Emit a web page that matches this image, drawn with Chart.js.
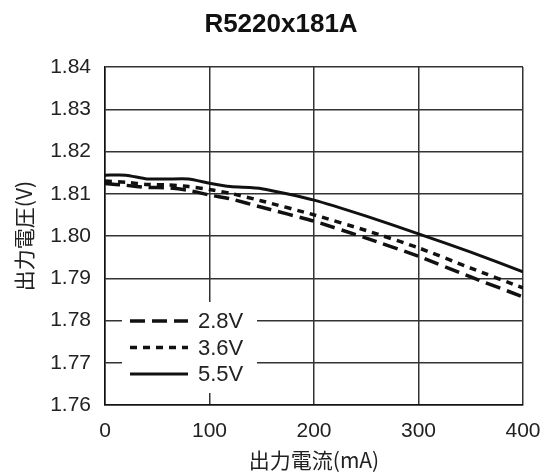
<!DOCTYPE html>
<html>
<head>
<meta charset="utf-8">
<script src="https://cdn.jsdelivr.net/npm/chart.js@4.4.1/dist/chart.umd.min.js"></script>
<style>
  body { margin: 0; background: #fff; }
  #wrap { width: 545px; height: 475px; }
</style>
</head>
<body>
<div id="wrap"><canvas id="chart" width="545" height="475"></canvas></div>
<script>
// データ (出力電流 mA / 出力電圧 V)
const chartTitle = 'R5220x181A';
const currents = [0, 20, 40, 60, 80, 100, 120, 150, 200, 250, 300, 350, 400];
const v28 = [1.8124, 1.8120, 1.8115, 1.8114, 1.8108, 1.8097, 1.8088, 1.8068, 1.8035, 1.7995, 1.7952, 1.7903, 1.7856];
const v36 = [1.8130, 1.8127, 1.8122, 1.8121, 1.8117, 1.8110, 1.8101, 1.8083, 1.8050, 1.8013, 1.7972, 1.7924, 1.7877];
const v55 = [1.8144, 1.8144, 1.8135, 1.8135, 1.8135, 1.8125, 1.8117, 1.8112, 1.8085, 1.8047, 1.8005, 1.7962, 1.7915];
const seriesLabels = ['2.8V', '3.6V', '5.5V'];
const xTicks = [0, 100, 200, 300, 400];
const yMin = 1.76, yMax = 1.84, yStep = 0.01;

const FONT = '"Liberation Sans", Arial, sans-serif';
const CJK = '"Noto Sans CJK JP", "Liberation Sans", sans-serif';

function toPoints(values) {
    return currents.map((c, i) => ({ x: c, y: values[i] }));
}

// タイトルと凡例を描くプラグイン
const titleLegend = {
    id: 'titleLegend',
    afterDraw(chart) {
        const ctx = chart.ctx;
        ctx.save();
        ctx.fillStyle = '#111';
        ctx.font = 'bold 26px ' + FONT;
        ctx.textAlign = 'center';
        ctx.textBaseline = 'middle';
        ctx.fillText(chartTitle, 281, 25);

        // 凡例 (プロット内左下)
        ctx.fillStyle = '#fff';
        ctx.fillRect(122, 302, 135, 91);
        chart.data.datasets.forEach((ds, i) => {
            const y = 321 + i * 26.5;
            ctx.strokeStyle = ds.borderColor;
            ctx.lineWidth = ds.borderWidth;
            ctx.setLineDash(ds.borderDash || []);
            ctx.beginPath();
            ctx.moveTo(130, y);
            ctx.lineTo(188, y);
            ctx.stroke();
            ctx.setLineDash([]);
            ctx.fillStyle = '#222';
            ctx.font = '22px ' + FONT;
            ctx.textAlign = 'left';
            ctx.textBaseline = 'middle';
            ctx.fillText(ds.label, 198, y + 1);
        });
        ctx.restore();
    }
};

new Chart(document.getElementById('chart'), {
    type: 'line',
    data: {
        datasets: [
            { label: seriesLabels[0], data: toPoints(v28), borderColor: '#111', borderWidth: 3.5, borderDash: [15, 7] },
            { label: seriesLabels[1], data: toPoints(v36), borderColor: '#111', borderWidth: 3.5, borderDash: [7, 6] },
            { label: seriesLabels[2], data: toPoints(v55), borderColor: '#111', borderWidth: 3 }
        ]
    },
    options: {
        responsive: false,
        animation: false,
        layout: { padding: { top: 67, right: 22, left: 0, bottom: 0 } },
        elements: { point: { radius: 0 }, line: { tension: 0.2 } },
        plugins: { legend: { display: false }, title: { display: false }, tooltip: { enabled: false } },
        scales: {
            x: {
                type: 'linear',
                min: 0,
                max: 400,
                afterBuildTicks: (scale) => { scale.ticks = xTicks.map(v => ({ value: v })); },
                afterFit: (scale) => { scale.height = 70; scale.paddingLeft = 0; scale.paddingRight = 0; },
                ticks: { color: '#222', font: { family: FONT, size: 21 }, padding: 14 },
                grid: { color: '#333', lineWidth: 1.5, drawTicks: false },
                border: { color: '#111', width: 1.5 },
                title: { display: true, text: '出力電流(mA)', color: '#222', font: { family: CJK, size: 21 }, padding: { top: 0, bottom: 2 } }
            },
            y: {
                min: yMin,
                max: yMax,
                ticks: { stepSize: yStep, color: '#222', font: { family: FONT, size: 21 }, padding: 14,
                    callback: (v) => v.toFixed(2) },
                afterFit: (scale) => { scale.width = 105; scale.paddingTop = 0; scale.paddingBottom = 0; },
                grid: { color: '#333', lineWidth: 1.5, drawTicks: false },
                border: { color: '#111', width: 1.5 },
                title: { display: true, text: '出力電圧(V)', color: '#222', font: { family: CJK, size: 21 }, padding: { top: 11, bottom: 0 } }
            }
        }
    },
    plugins: [titleLegend]
});
</script>
</body>
</html>
